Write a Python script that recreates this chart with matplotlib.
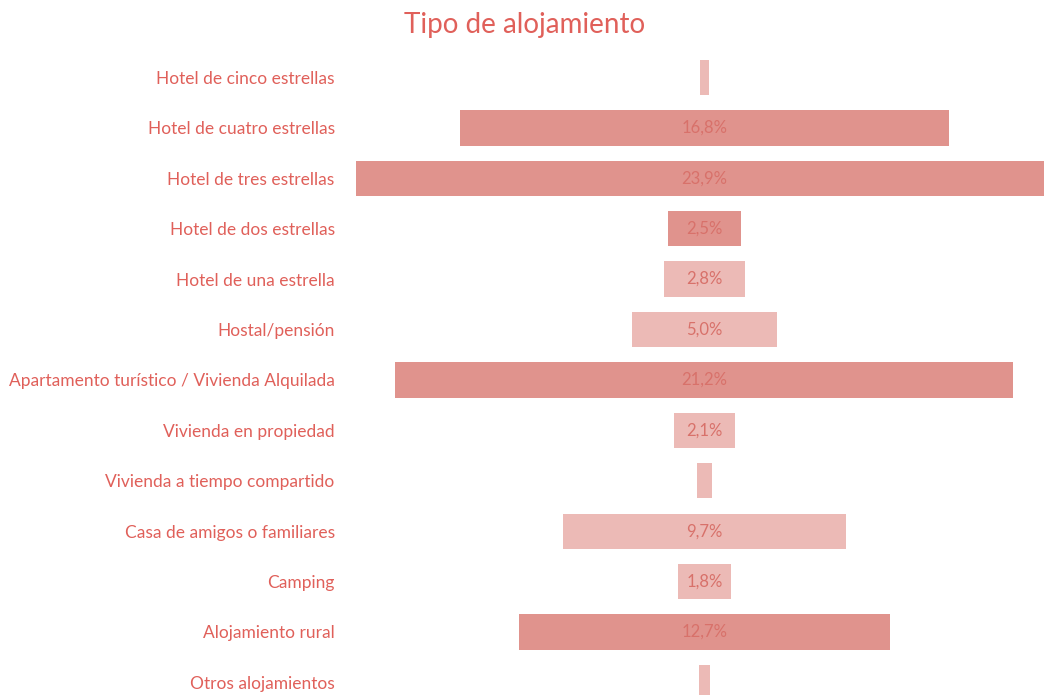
import matplotlib
matplotlib.use("Agg")
import matplotlib.pyplot as plt

categories = [
    "Hotel de cinco estrellas",
    "Hotel de cuatro estrellas",
    "Hotel de tres estrellas",
    "Hotel de dos estrellas",
    "Hotel de una estrella",
    "Hostal/pensión",
    "Apartamento turístico / Vivienda Alquilada",
    "Vivienda en propiedad",
    "Vivienda a tiempo compartido",
    "Casa de amigos o familiares",
    "Camping",
    "Alojamiento rural",
    "Otros alojamientos",
]
values = [0.3, 16.8, 23.9, 2.5, 2.8, 5.0, 21.2, 2.1, 0.5, 9.7, 1.8, 12.7, 0.4]
labels = ["", "16,8%", "23,9%", "2,5%", "2,8%", "5,0%", "21,2%", "2,1%", "", "9,7%", "1,8%", "12,7%", ""]
shade = ["light", "dark", "dark", "dark", "light", "light", "dark", "light", "light", "light", "light", "dark", "light"]

DARK = "#e0938d"
LIGHT = "#ecbab6"
TEXT = "#e0605a"
VAL_TEXT = "#d8716a"

plt.rcParams['font.family'] = ['Lato', 'DejaVu Sans']

fig = plt.figure(figsize=(10.44, 6.95), dpi=100)
ax = fig.add_axes([350 / 1044, 0.0, 694 / 1044, 640 / 695])

ys = list(range(len(categories)))
colors = [DARK if s == "dark" else LIGHT for s in shade]
ax.barh(ys, values, left=[-v / 2 for v in values], height=0.7, color=colors, edgecolor="none")

for y, lab in zip(ys, labels):
    if lab:
        ax.text(0, y, lab, ha="center", va="center", fontsize=12, color=VAL_TEXT)

ax.set_xlim(-12.16, 11.65)
ax.set_ylim(12.25, -0.446)
ax.set_yticks(ys)
ax.set_yticklabels(categories, fontsize=12.5, color=TEXT)
ax.tick_params(axis="y", length=0, pad=11)
ax.set_xticks([])
for sp in ax.spines.values():
    sp.set_visible(False)

fig.text(525 / 1044, 1 - 25 / 695, "Tipo de alojamiento", ha="center", va="center",
         fontsize=20, color=TEXT)

fig.savefig("out.png", dpi=100)
